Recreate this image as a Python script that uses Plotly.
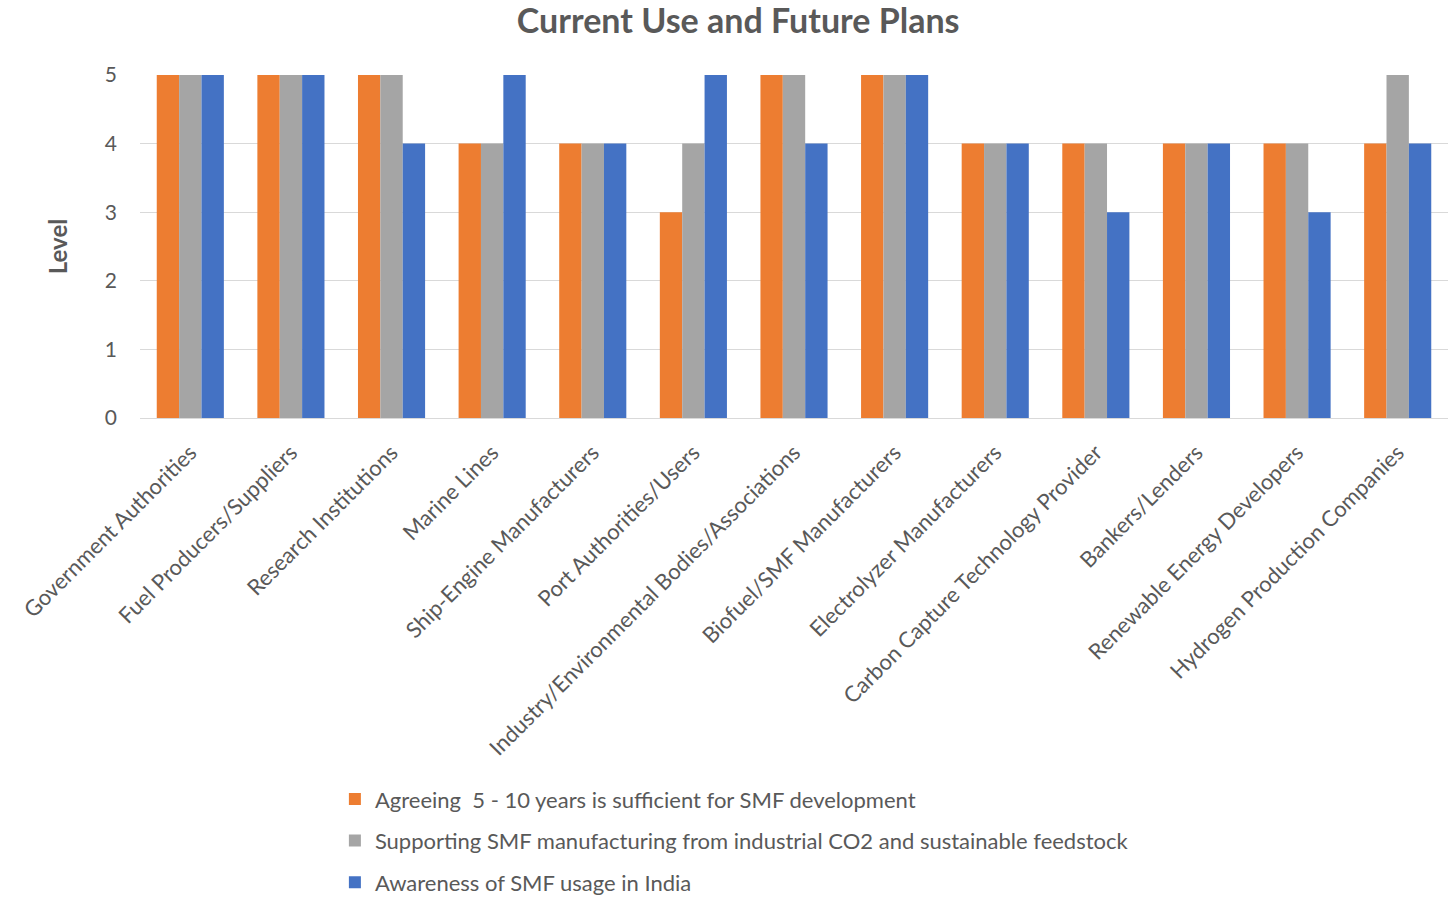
import plotly.graph_objects as go

categories = ["Government Authorities", "Fuel Producers/Suppliers", "Research Institutions",
              "Marine Lines", "Ship-Engine Manufacturers", "Port Authorities/Users",
              "Industry/Environmental Bodies/Associations", "Biofuel/SMF Manufacturers",
              "Electrolyzer Manufacturers", "Carbon Capture Technology Provider",
              "Bankers/Lenders", "Renewable Energy Developers", "Hydrogen Production Companies"]
agreeing = [5, 5, 5, 4, 4, 3, 5, 5, 4, 4, 4, 4, 4]
supporting = [5, 5, 5, 4, 4, 4, 5, 5, 4, 4, 4, 4, 5]
awareness = [5, 5, 4, 5, 4, 5, 4, 5, 4, 3, 4, 3, 4]
series_names = ["Agreeing  5 - 10 years is sufficient for SMF development",
                "Supporting SMF manufacturing from industrial CO2 and sustainable feedstock",
                "Awareness of SMF usage in India"]
colors = ["#ED7D31", "#A5A5A5", "#4472C4"]

FONT = "Lato"
TXT = "#595959"

fig = go.Figure()
for i, (name, vals, col) in enumerate(zip(series_names, [agreeing, supporting, awareness], colors)):
    fig.add_trace(go.Bar(x=categories, y=vals, name=name, marker_color=col,
                         marker_line_width=0, legendgroup=f"g{i}"))

fig.update_layout(
    width=1456, height=901,
    paper_bgcolor="white", plot_bgcolor="white",
    barmode="group", bargap=0.333, bargroupgap=0,
    margin=dict(l=140, r=8, t=75, b=483, autoexpand=False),
    title=dict(text="<b>Current Use and Future Plans</b>", x=0.507, xanchor="center",
               y=0.977, yanchor="middle", font=dict(family=FONT, size=34, color=TXT)),
    font=dict(family=FONT, color=TXT, size=20),
    legend=dict(orientation="v", x=0.149, xanchor="left", y=-1.05, yanchor="top",
                font=dict(family=FONT, size=22, color=TXT), traceorder="grouped",
                tracegroupgap=10, itemwidth=30),
    showlegend=True,
)
fig.update_xaxes(tickangle=-45, tickfont=dict(family=FONT, size=22, color=TXT),
                 showline=True, linecolor="#D9D9D9", linewidth=1, ticks="", showgrid=False,
                 automargin=False, ticklabelstandoff=12)
fig.update_yaxes(range=[0, 5], dtick=1, showgrid=True, gridcolor="#D9D9D9", gridwidth=1,
                 zeroline=True, zerolinecolor="#D9D9D9", zerolinewidth=1,
                 tickfont=dict(family=FONT, size=21, color=TXT), ticks="", ticklabelstandoff=22,
                 automargin=False,
                 title=dict(text="<b>Level</b>", font=dict(family=FONT, size=24, color=TXT), standoff=30))

fig.write_html("out.html")
